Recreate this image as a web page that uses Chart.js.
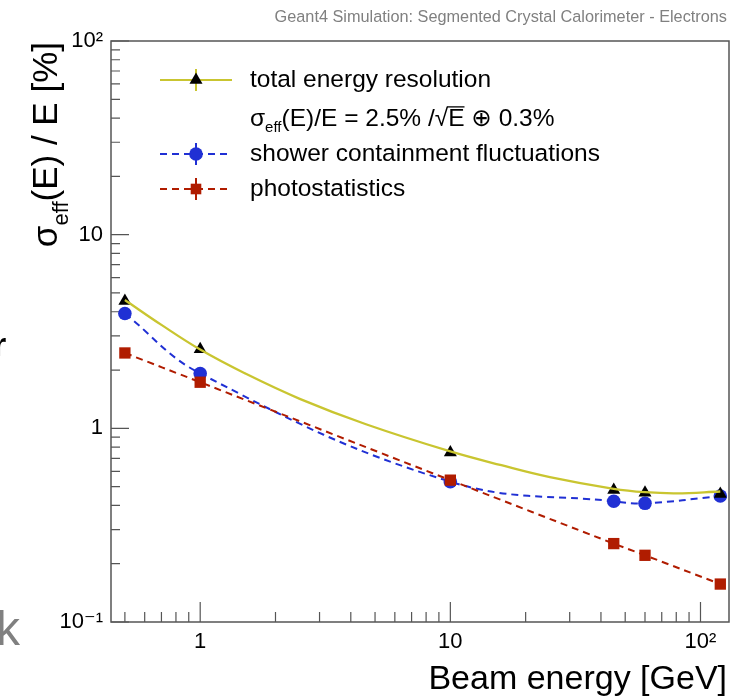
<!DOCTYPE html>
<html><head><meta charset="utf-8">
<script src="https://cdn.jsdelivr.net/npm/chart.js@4/dist/chart.umd.min.js"></script>
<style>html,body{margin:0;padding:0;background:#fff}canvas{display:block}</style>
</head><body>
<canvas id="c" width="749" height="699"></canvas>
<script>
// ---- data ----
const energies   = [0.5, 1, 10, 45, 60, 120];
const totalRes   = [4.55, 2.56, 0.75, 0.48, 0.465, 0.458];
const showerRes  = [3.92, 1.92, 0.53, 0.42, 0.41, 0.447];
const photoRes   = [2.45, 1.73, 0.54, 0.254, 0.221, 0.157];
const fitEnergies = [0.5, 0.7, 1, 1.5, 2.5, 4.6, 10, 16, 25, 45, 60, 80, 120];
const fitRes      = [4.6, 3.42, 2.55, 1.93, 1.42, 1.05, 0.76, 0.645, 0.56, 0.487, 0.468, 0.462, 0.472];
const xTickValues = [1, 10, 100];
const xTickLabels = ['1', '10', '10²'];
const yTickValues = [0.1, 1, 10, 100];
const yTickLabels = ['10⁻¹', '1', '10', '10²'];
const legendLabels = ['total energy resolution', 'shower containment fluctuations', 'photostatistics'];
const titleText = 'Geant4 Simulation: Segmented Crystal Calorimeter - Electrons';
const xTitleText = 'Beam energy [GeV]';

const FONT = '"Liberation Sans", "DejaVu Sans", Arial, sans-serif';
const YELLOW = '#c9c530', BLUE = '#2030d4', RED = '#b01c00', AXIS = '#555';

function minorTicks(lo, hi) {
  const out = [];
  for (let d = 0.1; d <= 100; d *= 10)
    for (let m = 2; m <= 9; m++) { const v = +(m * d).toPrecision(3); if (v >= lo && v <= hi) out.push(v); }
  return out;
}

function drawParts(ctx, parts, x, y, doDraw) {
  let cx = x;
  for (const p of parts) {
    ctx.font = `${p.size}px ${FONT}`;
    const w = ctx.measureText(p.t).width;
    if (doDraw) {
      ctx.fillText(p.t, cx, y + (p.dy || 0));
      if (p.over) {
        ctx.save(); ctx.lineWidth = 1.3; ctx.strokeStyle = ctx.fillStyle;
        ctx.beginPath(); ctx.moveTo(cx - 1, y - p.size * 0.78); ctx.lineTo(cx + w, y - p.size * 0.78); ctx.stroke();
        ctx.restore();
      }
    }
    cx += w;
  }
  return cx - x;
}

function marker(ctx, style, r, x, y, color) {
  ctx.save();
  ctx.fillStyle = color; ctx.strokeStyle = color;
  Chart.helpers.drawPoint(ctx, {pointStyle: style, radius: r, rotation: 0, borderWidth: 0}, x, y);
  ctx.restore();
}

const framePlugin = {
  id: 'frame',
  beforeDatasetsDraw(chart) {
    const {ctx, chartArea: a, scales: {x, y}} = chart;
    ctx.save();
    ctx.strokeStyle = AXIS; ctx.lineWidth = 1.5;
    ctx.strokeRect(a.left, a.top, a.right - a.left, a.bottom - a.top);
    ctx.lineWidth = 1.2;
    ctx.beginPath();
    for (const v of xTickValues) { const px = x.getPixelForValue(v); ctx.moveTo(px, a.bottom); ctx.lineTo(px, a.bottom - 20); }
    for (const v of minorTicks(x.min, x.max)) { const px = x.getPixelForValue(v); ctx.moveTo(px, a.bottom); ctx.lineTo(px, a.bottom - 10); }
    for (const v of yTickValues) { const py = y.getPixelForValue(v); ctx.moveTo(a.left, py); ctx.lineTo(a.left + 18, py); }
    for (const v of minorTicks(y.min, y.max)) { const py = y.getPixelForValue(v); ctx.moveTo(a.left, py); ctx.lineTo(a.left + 9, py); }
    ctx.stroke();
    ctx.restore();
  },
  afterDraw(chart) {
    const ctx = chart.ctx;
    ctx.save();
    // top title
    ctx.fillStyle = '#808080';
    ctx.font = `16.3px ${FONT}`;
    ctx.textAlign = 'right'; ctx.textBaseline = 'alphabetic';
    ctx.fillText(titleText, 727, 22);
    // cropped glyphs at the left border
    ctx.textAlign = 'left';
    ctx.font = `48px ${FONT}`;
    ctx.fillText('k', -4, 645);
    ctx.fillStyle = '#000';
    ctx.font = `bold 34px ${FONT}`;
    ctx.fillText('r', -7, 356);
    // x title
    ctx.fillStyle = '#000';
    ctx.textAlign = 'right';
    ctx.font = `34px ${FONT}`;
    ctx.fillText(xTitleText, 727, 689);
    // y title (rotated)
    ctx.textAlign = 'left';
    const yParts = [
      {t: 'σ', size: 35}, {t: 'eff', size: 22, dy: 11}, {t: '(E) / E [%]', size: 35}
    ];
    const w = drawParts(ctx, yParts, 0, 0, false);
    ctx.save();
    ctx.translate(57, 42 + w);
    ctx.rotate(-Math.PI / 2);
    drawParts(ctx, yParts, 0, 0, true);
    ctx.restore();
    // legend
    const lx0 = 160, lx1 = 232, mx = 196, tx = 250;
    const rows = [
      {y: 80, color: YELLOW, dash: [], style: 'triangle', r: 7.5, mcolor: '#000', label: legendLabels[0]},
      {y: 154, color: BLUE, dash: [7, 5], style: 'circle', r: 6.8, mcolor: BLUE, label: legendLabels[1]},
      {y: 189, color: RED, dash: [7, 5], style: 'rect', r: 7.5, mcolor: RED, label: legendLabels[2]}
    ];
    for (const row of rows) {
      ctx.save();
      ctx.strokeStyle = row.color; ctx.lineWidth = 2; ctx.setLineDash(row.dash);
      ctx.beginPath(); ctx.moveTo(lx0, row.y); ctx.lineTo(lx1, row.y); ctx.stroke();
      ctx.setLineDash([]);
      ctx.beginPath(); ctx.moveTo(mx, row.y - 11); ctx.lineTo(mx, row.y + 11); ctx.stroke();
      ctx.restore();
      marker(ctx, row.style, row.r, mx, row.y, row.mcolor);
      ctx.fillStyle = '#000'; ctx.textBaseline = 'middle'; ctx.textAlign = 'left';
      ctx.font = `24.5px ${FONT}`;
      ctx.fillText(row.label, tx, row.y);
    }
    ctx.textBaseline = 'alphabetic';
    ctx.fillStyle = '#000';
    drawParts(ctx, [
      {t: 'σ', size: 24.5}, {t: 'eff', size: 15, dy: 6}, {t: '(E)/E = 2.5% /', size: 24.5},
      {t: '√', size: 24.5}, {t: 'E', size: 24.5, over: true}, {t: ' ⊕ 0.3%', size: 24.5}
    ], tx, 126, true);
    ctx.restore();
  }
};

const pts = (xs, ys) => xs.map((e, i) => ({x: e, y: ys[i]}));

new Chart(document.getElementById('c').getContext('2d'), {
  type: 'line',
  data: {
    datasets: [
      {label: 'fit', data: pts(fitEnergies, fitRes), borderColor: YELLOW, borderWidth: 2.3,
       pointRadius: 0, tension: 0.4, fill: false},
      {label: legendLabels[0], data: pts(energies, totalRes), showLine: false, pointStyle: 'triangle',
       pointRadius: 7.5, pointBackgroundColor: '#000', pointBorderWidth: 0, borderColor: '#000'},
      {label: legendLabels[2], data: pts(energies, photoRes), borderColor: RED, borderWidth: 2,
       borderDash: [7, 5], tension: 0.4, pointStyle: 'rect', pointRadius: 8,
       pointBackgroundColor: RED, pointBorderWidth: 0},
      {label: legendLabels[1], data: pts(energies, showerRes), borderColor: BLUE, borderWidth: 2,
       borderDash: [7, 5], tension: 0.4, pointStyle: 'circle', pointRadius: 6.8,
       pointBackgroundColor: BLUE, pointBorderWidth: 0}
    ]
  },
  options: {
    responsive: false, animation: false, events: [],
    layout: {padding: {top: 41, right: 20, left: 0, bottom: 0}},
    plugins: {legend: {display: false}, tooltip: {enabled: false}, title: {display: false}},
    scales: {
      x: {
        type: 'logarithmic', min: 0.44, max: 130,
        afterFit(s) { s.height = 77; },
        afterBuildTicks(s) { s.ticks = xTickValues.map(v => ({value: v})); },
        ticks: {callback: v => xTickLabels[xTickValues.findIndex(t => Math.abs(t - v) < 1e-9)],
                font: {family: FONT, size: 22}, color: '#000', padding: 7, maxRotation: 0, autoSkip: false},
        grid: {display: false, drawTicks: false}, border: {display: false}
      },
      y: {
        type: 'logarithmic', min: 0.1, max: 100,
        afterFit(s) { s.width = 111; },
        afterBuildTicks(s) { s.ticks = yTickValues.map(v => ({value: v})); },
        ticks: {callback: v => yTickLabels[yTickValues.findIndex(t => Math.abs(t - v) < 1e-9)],
                font: {family: FONT, size: 22}, color: '#000', padding: 8, autoSkip: false},
        grid: {display: false, drawTicks: false}, border: {display: false}
      }
    }
  },
  plugins: [framePlugin]
});
</script>
</body></html>
